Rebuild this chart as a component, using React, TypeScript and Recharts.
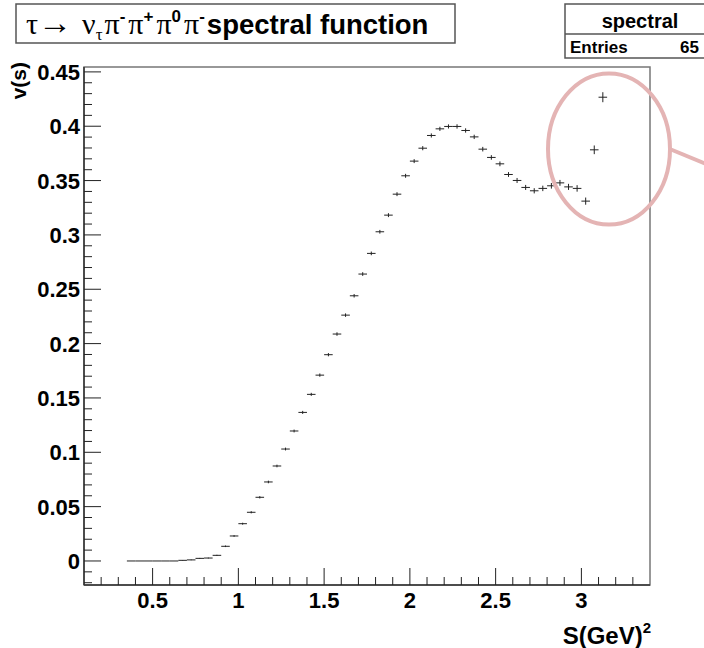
import React from "react";
import { ScatterChart, Scatter, XAxis, YAxis, ErrorBar, ReferenceArea } from "recharts";

// bin centres of the histogram, S in GeV^2
const BIN_CENTERS = [
  0.375, 0.425, 0.475, 0.525, 0.575, 0.625, 0.675, 0.725, 0.775, 0.825,
  0.875, 0.925, 0.975, 1.025, 1.075, 1.125, 1.175, 1.225, 1.275, 1.325,
  1.375, 1.425, 1.475, 1.525, 1.575, 1.625, 1.675, 1.725, 1.775, 1.825,
  1.875, 1.925, 1.975, 2.025, 2.075, 2.125, 2.175, 2.225, 2.275, 2.325,
  2.375, 2.425, 2.475, 2.525, 2.575, 2.625, 2.675, 2.725, 2.775, 2.825,
  2.875, 2.925, 2.975, 3.025, 3.075, 3.125,
];

// v(s) per bin
const VALUES = [
  0, 0, 0, 0, 0, 0, 0.0006, 0.001, 0.0024, 0.0027,
  0.0052, 0.0135, 0.023, 0.0343, 0.0448, 0.0586, 0.0727, 0.0874, 0.103, 0.1196,
  0.1367, 0.1533, 0.171, 0.1898, 0.2088, 0.2262, 0.244, 0.264, 0.283, 0.3029,
  0.3182, 0.3375, 0.3544, 0.3679, 0.3798, 0.3915, 0.3976, 0.3998, 0.3998, 0.3961,
  0.3902, 0.3789, 0.3713, 0.3654, 0.3556, 0.3501, 0.3437, 0.3406, 0.3428, 0.3452,
  0.3479, 0.3442, 0.3428, 0.3311, 0.3783, 0.4267,
];

// errors on v(s)
const ERRORS = [
  0, 0, 0, 0, 0, 0, 0.0002, 0.0003, 0.0004, 0.0004,
  0.0005, 0.0007, 0.0008, 0.0009, 0.001, 0.0011, 0.0012, 0.0012, 0.0013, 0.0013,
  0.0014, 0.0014, 0.0015, 0.0015, 0.0016, 0.0016, 0.0016, 0.0017, 0.0017, 0.0017,
  0.0018, 0.0018, 0.0018, 0.0018, 0.0019, 0.0019, 0.0019, 0.0019, 0.002, 0.002,
  0.002, 0.0021, 0.0021, 0.0022, 0.0022, 0.0023, 0.0023, 0.0024, 0.0025, 0.0026,
  0.0027, 0.0028, 0.003, 0.0033, 0.004, 0.0046,
];

const HALF_BIN = 0.025;

const X_TICKS = [
  0.2, 0.3, 0.4, 0.5, 0.6, 0.7, 0.8, 0.9, 1, 1.1, 1.2, 1.3, 1.4, 1.5, 1.6, 1.7,
  1.8, 1.9, 2, 2.1, 2.2, 2.3, 2.4, 2.5, 2.6, 2.7, 2.8, 2.9, 3, 3.1, 3.2, 3.3,
];
const X_LABELS = [0.5, 1, 1.5, 2, 2.5, 3];

const Y_TICKS = [
  -0.02, -0.01, 0, 0.01, 0.02, 0.03, 0.04, 0.05, 0.06, 0.07, 0.08, 0.09, 0.1,
  0.11, 0.12, 0.13, 0.14, 0.15, 0.16, 0.17, 0.18, 0.19, 0.2, 0.21, 0.22, 0.23,
  0.24, 0.25, 0.26, 0.27, 0.28, 0.29, 0.3, 0.31, 0.32, 0.33, 0.34, 0.35, 0.36,
  0.37, 0.38, 0.39, 0.4, 0.41, 0.42, 0.43, 0.44, 0.45,
];
const Y_LABELS = [0, 0.05, 0.1, 0.15, 0.2, 0.25, 0.3, 0.35, 0.4, 0.45];

const X_DOMAIN = [0.1, 3.4];
const Y_DOMAIN = [-0.0221, 0.4545];

const SANS = "'Liberation Sans', Arial, Helvetica, sans-serif";
const SERIF = "'Liberation Serif', 'DejaVu Serif', serif";
const PINK = "#e4b4b4";

const data = BIN_CENTERS.map((x, i) => ({ x, v: VALUES[i], ex: HALF_BIN, ey: ERRORS[i] }));

const isIn = (list: number[], v: number) => list.some((m) => Math.abs(m - v) < 1e-6);

const XTick = (props: any) => {
  const { x, y, payload } = props;
  const major = isIn(X_LABELS, payload.value);
  return (
    <g>
      <line x1={x} x2={x} y1={y} y2={y - (major ? 17 : 8)} stroke="#222" strokeWidth={1} />
      {major && (
        <text x={x} y={y + 23} textAnchor="middle" fontFamily={SANS} fontWeight="bold" fontSize={22} fill="#000">
          {String(payload.value)}
        </text>
      )}
    </g>
  );
};

const YTick = (props: any) => {
  const { x, y, payload } = props;
  const major = isIn(Y_LABELS, payload.value);
  return (
    <g>
      <line x1={x} x2={x + (major ? 17 : 8)} y1={y} y2={y} stroke="#222" strokeWidth={1} />
      {major && (
        <text x={x - 4} y={y + 8} textAnchor="end" fontFamily={SANS} fontWeight="bold" fontSize={22} fill="#000">
          {String(payload.value)}
        </text>
      )}
    </g>
  );
};

export default function App() {
  return (
    <div style={{ position: "absolute", left: 0, top: 0, width: 704, height: 648, background: "#fff" }}>
      <ScatterChart width={704} height={648} margin={{ top: 67, right: 54, bottom: 33, left: 24 }}>
        <XAxis
          type="number"
          dataKey="x"
          domain={X_DOMAIN}
          ticks={X_TICKS}
          interval={0}
          allowDataOverflow
          height={30}
          tickSize={0}
          tickMargin={0}
          tickLine={false}
          axisLine={{ stroke: "#333", strokeWidth: 1.5 }}
          tick={<XTick />}
        />
        <YAxis
          type="number"
          dataKey="v"
          domain={Y_DOMAIN}
          ticks={Y_TICKS}
          interval={0}
          allowDataOverflow
          width={60}
          tickSize={0}
          tickMargin={0}
          tickLine={false}
          axisLine={{ stroke: "#333", strokeWidth: 1.5 }}
          tick={<YTick />}
        />
        <ReferenceArea
          x1={X_DOMAIN[0]}
          x2={X_DOMAIN[1]}
          y1={Y_DOMAIN[0]}
          y2={Y_DOMAIN[1]}
          fill="none"
          stroke="#777"
          strokeWidth={1.5}
        />
        <Scatter data={data} dataKey="v" isAnimationActive={false} shape={() => <g />}>
          <ErrorBar dataKey="ex" direction="x" width={0} stroke="#222" strokeWidth={1} isAnimationActive={false} />
          <ErrorBar dataKey="ey" direction="y" width={0} stroke="#222" strokeWidth={1} isAnimationActive={false} />
        </Scatter>
      </ScatterChart>

      <svg
        width={704}
        height={648}
        style={{ position: "absolute", left: 0, top: 0, pointerEvents: "none" }}
      >
        {/* title */}
        <rect x={16} y={4} width={439} height={39} fill="#fff" stroke="#555" strokeWidth={1.5} />
        <text x={26} y={34} fill="#000">
          <tspan fontFamily={SERIF} fontSize={30}>τ</tspan>
          <tspan fontFamily={SERIF} fontSize={34}>→</tspan>
          <tspan fontFamily={SERIF} fontSize={30} dx={10}>ν</tspan>
          <tspan fontFamily={SERIF} fontSize={17} dy={6}>τ</tspan>
          <tspan fontFamily={SERIF} fontSize={30} dy={-6} dx={2}>π</tspan>
          <tspan fontFamily={SANS} fontWeight="bold" fontSize={17} dy={-12}>-</tspan>
          <tspan fontFamily={SERIF} fontSize={30} dy={12} dx={3}>π</tspan>
          <tspan fontFamily={SANS} fontWeight="bold" fontSize={17} dy={-12}>+</tspan>
          <tspan fontFamily={SERIF} fontSize={30} dy={12} dx={3}>π</tspan>
          <tspan fontFamily={SANS} fontWeight="bold" fontSize={17} dy={-12}>0</tspan>
          <tspan fontFamily={SERIF} fontSize={30} dy={12} dx={3}>π</tspan>
          <tspan fontFamily={SANS} fontWeight="bold" fontSize={17} dy={-12}>-</tspan>
          <tspan fontFamily={SANS} fontWeight="bold" fontSize={27.5} dy={12} dx={2}>spectral function</tspan>
        </text>

        {/* stats box */}
        <rect x={565} y={4} width={150} height={54} fill="#fff" stroke="#555" strokeWidth={1.5} />
        <line x1={565} x2={715} y1={34} y2={34} stroke="#555" strokeWidth={1.5} />
        <text x={640} y={28} textAnchor="middle" fontFamily={SANS} fontWeight="bold" fontSize={20} fill="#000">
          spectral
        </text>
        <text x={570} y={53} fontFamily={SANS} fontWeight="bold" fontSize={17} fill="#000">
          Entries
        </text>
        <text x={699} y={53} textAnchor="end" fontFamily={SANS} fontWeight="bold" fontSize={17} fill="#000">
          65
        </text>

        {/* axis titles */}
        <text
          x={26}
          y={62}
          transform="rotate(-90 26 62)"
          textAnchor="end"
          fontFamily={SANS}
          fontWeight="bold"
          fontSize={21}
          fill="#000"
        >
          v(s)
        </text>
        <text x={651} y={644} textAnchor="end" fontFamily={SANS} fontWeight="bold" fontSize={24} fill="#000">
          S(GeV)
          <tspan fontSize={15} dy={-11}>2</tspan>
        </text>

        {/* highlight */}
        <ellipse cx={609} cy={149} rx={61} ry={75.5} fill="none" stroke={PINK} strokeWidth={4} />
        <line x1={671} y1={149.5} x2={706} y2={164} stroke={PINK} strokeWidth={4} />
      </svg>
    </div>
  );
}
